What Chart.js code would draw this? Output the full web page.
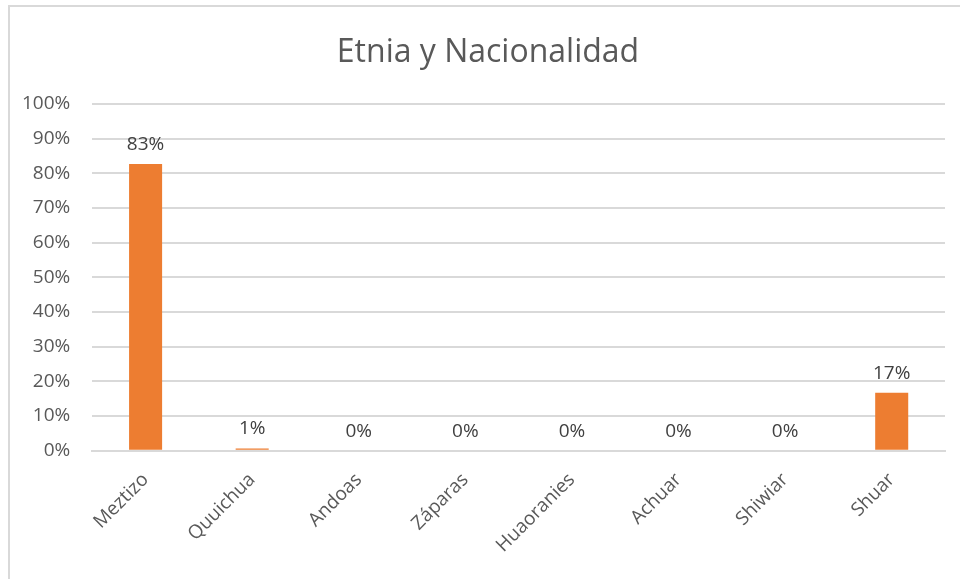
<!DOCTYPE html>
<html>
<head>
<meta charset="utf-8">
<script src="https://cdn.jsdelivr.net/npm/chart.js@4"></script>
<style>
    html, body { margin: 0; padding: 0; background: #fff; overflow: hidden; }
    #frame { position: absolute; left: 8px; top: 5px; width: 1000px; height: 1000px; border: 2px solid #d9d9d9; }
    #wrap { position: absolute; left: 0; top: 0; width: 960px; height: 579px; }
</style>
</head>
<body>
<div id="frame"></div>
<div id="wrap"><canvas id="etniaChart" width="960" height="579"></canvas></div>
<script>
const categories = ['Meztizo', 'Quuichua', 'Andoas', 'Záparas', 'Huaoranies', 'Achuar', 'Shiwiar', 'Shuar'];
const shares = [0.827, 0.006, 0, 0, 0, 0, 0, 0.167];
const yTicks = [0, 0.1, 0.2, 0.3, 0.4, 0.5, 0.6, 0.7, 0.8, 0.9, 1];
const chartTitle = 'Etnia y Nacionalidad';

const FONT = "'Open Sans', 'Liberation Sans', sans-serif";
const TEXT = '#595959';

// draws the percent label above each bar
const barLabels = {
    id: 'barLabels',
    afterDatasetsDraw(chart) {
        const ctx = chart.ctx;
        const meta = chart.getDatasetMeta(0);
        ctx.save();
        ctx.font = '19px ' + FONT;
        ctx.fillStyle = '#404040';
        ctx.textAlign = 'center';
        ctx.textBaseline = 'bottom';
        meta.data.forEach((bar, i) => {
            const txt = Math.round(shares[i] * 100) + '%';
            ctx.fillText(txt, bar.x, bar.y - 10);
        });
        ctx.restore();
    }
};

// title drawn by hand so it can sit centred on the whole frame
const frameTitle = {
    id: 'frameTitle',
    afterDraw(chart) {
        const ctx = chart.ctx;
        ctx.save();
        ctx.font = '32px ' + FONT;
        ctx.fillStyle = TEXT;
        ctx.textAlign = 'center';
        ctx.textBaseline = 'middle';
        ctx.fillText(chartTitle, 488, 53);
        ctx.restore();
    }
};

new Chart(document.getElementById('etniaChart').getContext('2d'), {
    type: 'bar',
    data: {
        labels: categories,
        datasets: [{
            label: chartTitle,
            data: shares,
            backgroundColor: '#ED7D31',
            borderWidth: 0,
            barPercentage: 0.62,
            categoryPercentage: 0.5
        }]
    },
    options: {
        responsive: false,
        animation: false,
        layout: {
            padding: { left: 0, right: 15, top: 104, bottom: 12 }
        },
        plugins: {
            legend: { display: false },
            tooltip: { enabled: false },
            title: { display: false }
        },
        scales: {
            x: {
                grid: { display: false },
                border: { display: true, color: '#d9d9d9', width: 2 },
                ticks: {
                    color: TEXT,
                    font: { family: FONT, size: 19 },
                    minRotation: 45,
                    maxRotation: 45,
                    padding: 10
                }
            },
            y: {
                min: 0,
                max: 1,
                afterBuildTicks(axis) {
                    axis.ticks = yTicks.map(v => ({ value: v }));
                },
                grid: { color: '#d9d9d9', lineWidth: 2, drawTicks: false },
                border: { display: false },
                ticks: {
                    color: TEXT,
                    font: { family: FONT, size: 19 },
                    padding: 22,
                    callback: v => Math.round(v * 100) + '%'
                }
            }
        }
    },
    plugins: [barLabels, frameTitle]
});
</script>
</body>
</html>
